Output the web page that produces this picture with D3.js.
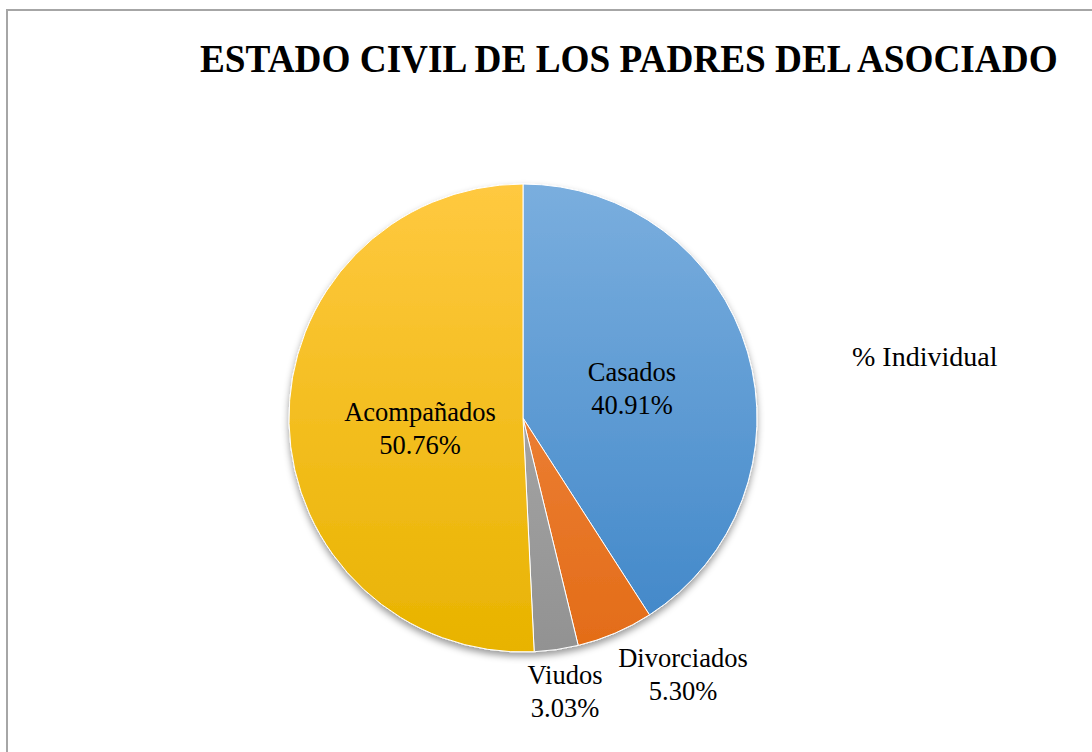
<!DOCTYPE html>
<html lang="es">
	<head>
		<meta charset="utf-8">
		<title>Estado civil de los padres del asociado</title>
		<script type="text/javascript" src="https://d3js.org/d3.v7.min.js"></script>
		<style type="text/css">
			body { margin: 0; background: #fff; }
			text { font-family: "Liberation Serif", "Times New Roman", serif; fill: #000; }
		</style>
	</head>
	<body>
		<script type="text/javascript">

			//Width and height
			var w = 1092;
			var h = 752;

			//Data
			var categories = ["Casados", "Divorciados", "Viudos", "Acompañados"];
			var values = [40.91, 5.30, 3.03, 50.76];
			var labels = ["40.91%", "5.30%", "3.03%", "50.76%"];
			var topColors = ["#7aaede", "#f38f4e", "#b4b4b4", "#ffc940"];
			var bottomColors = ["#3f86c8", "#e36c17", "#929292", "#e8b300"];
			var labelPos = [[632, 372], [683, 658], [565, 675], [420, 412]];

			var cx = 523, cy = 418, r = 234;

			var svg = d3.select("body")
						.append("svg")
						.attr("width", w)
						.attr("height", h);

			var defs = svg.append("defs");

			//Gradients, one per slice (in the pie group's coordinates)
			categories.forEach(function(c, i) {
				var g = defs.append("linearGradient")
					.attr("id", "grad" + i)
					.attr("gradientUnits", "userSpaceOnUse")
					.attr("x1", 0).attr("y1", -r)
					.attr("x2", 0).attr("y2", r);
				g.append("stop").attr("offset", "0%").attr("stop-color", topColors[i]);
				g.append("stop").attr("offset", "100%").attr("stop-color", bottomColors[i]);
			});

			var shadow = defs.append("filter").attr("id", "shadow")
				.attr("x", "-20%").attr("y", "-20%").attr("width", "140%").attr("height", "140%");
			shadow.append("feDropShadow")
				.attr("dx", 0).attr("dy", 4).attr("stdDeviation", 3.5)
				.attr("flood-color", "#000").attr("flood-opacity", 0.4);

			//Frame
			svg.append("rect")
			   .attr("x", 7).attr("y", 10)
			   .attr("width", w).attr("height", h)
			   .attr("fill", "none")
			   .attr("stroke", "#a6a6a6")
			   .attr("stroke-width", 2);

			//Title, squeezed horizontally like the original
			var titleG = svg.append("g");
			var title = titleG.append("text")
			   .attr("x", 0)
			   .attr("y", 0)
			   .attr("font-size", "40px")
			   .attr("font-weight", "bold")
			   .text("ESTADO CIVIL DE LOS PADRES DEL ASOCIADO");
			var tw = title.node().getComputedTextLength();
			titleG.attr("transform", "translate(200,72) scale(" + (858 / tw) + ",1)");

			//Pie
			var pie = d3.pie().sort(null).value(function(d) { return d; });
			var arc = d3.arc().innerRadius(0).outerRadius(r);

			var g = svg.append("g")
					   .attr("transform", "translate(" + cx + "," + cy + ")")
					   .attr("filter", "url(#shadow)");

			g.selectAll("path")
			 .data(pie(values))
			 .enter()
			 .append("path")
			 .attr("d", arc)
			 .attr("fill", function(d, i) { return "url(#grad" + i + ")"; })
			 .attr("stroke", "#fff")
			 .attr("stroke-width", 1);

			//Labels
			var lab = svg.selectAll("text.lab")
			   .data(categories)
			   .enter()
			   .append("text")
			   .attr("class", "lab")
			   .attr("text-anchor", "middle")
			   .attr("font-size", "26.5px")
			   .attr("x", function(d, i) { return labelPos[i][0]; })
			   .attr("y", function(d, i) { return labelPos[i][1] + 9; });

			lab.append("tspan").text(function(d) { return d; });
			lab.append("tspan")
			   .attr("x", function(d, i) { return labelPos[i][0]; })
			   .attr("dy", 33)
			   .text(function(d, i) { return labels[i]; });

			//Legend text
			svg.append("text")
			   .attr("x", 852)
			   .attr("y", 366)
			   .attr("font-size", "28px")
			   .text("% Individual");

		</script>
	</body>
</html>
